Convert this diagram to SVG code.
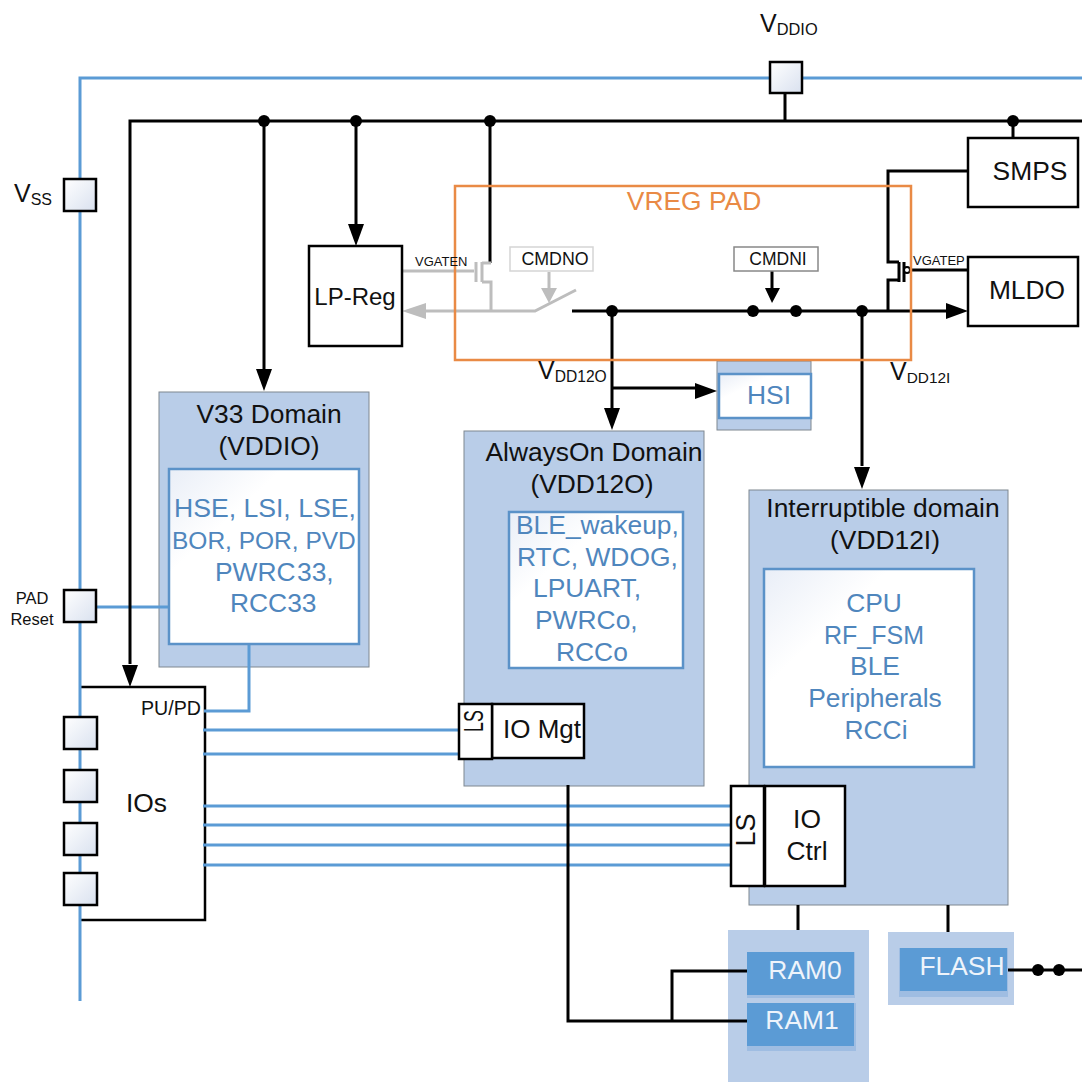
<svg xmlns="http://www.w3.org/2000/svg" width="1082" height="1082" viewBox="0 0 1082 1082">
<style>
text{font-family:"Liberation Sans",Arial,sans-serif;fill:#111;font-size:26.4px}
.c{text-anchor:middle}
.b{fill:#4f86bd}
.o{fill:#e98a45}
.w{fill:#eef4fb}
.k{fill:none;stroke:#000;stroke-width:3}
.g{fill:none;stroke:#bdbdbd;stroke-width:3}
.u{fill:none;stroke:#5b9bd5;stroke-width:3}
.dom{fill:#b9cde8;stroke:#7f8790;stroke-width:1}
.inner{fill:url(#wg);stroke:#5b92c8;stroke-width:2.5}
.pad{fill:url(#pg);stroke:#000;stroke-width:2.5}
.box{fill:#fff;stroke:#000;stroke-width:2.5}
.ram{fill:#5b9bd5}
.band{fill:#9fbde2}
.dot{fill:#000}
</style>
<defs>
<linearGradient id="wg" x1="0" y1="0" x2="1" y2="1"><stop offset="0" stop-color="#e9eef7"/><stop offset=".3" stop-color="#fff"/></linearGradient>
<linearGradient id="pg" x1="0" y1="0" x2="1" y2="1"><stop offset="0" stop-color="#fff"/><stop offset="1" stop-color="#d9e1ef"/></linearGradient>
</defs>

<g id="domains">
<rect id="v33-domain" class="dom" x="159" y="392" width="210" height="275"/>
<rect id="alwayson-domain" class="dom" x="464" y="431" width="240" height="355"/>
<rect id="interruptible-domain" class="dom" x="749" y="490" width="259" height="415"/>
<rect id="hsi-domain" class="dom" x="717" y="361" width="94" height="69"/>
<rect id="ram-domain" x="728" y="930" width="141" height="152" fill="#b9cde8"/>
<rect id="flash-domain" x="888" y="932" width="126" height="73" fill="#b9cde8"/>
</g>

<g id="ios"><path fill="#fff" d="M82 687H205V920H82Z"/><path fill="none" stroke="#000" stroke-width="2.5" d="M81 687H205V920H81"/>
<text x="126" y="812">IOs</text><text x="141" y="715" style="font-size:19.6px">PU/PD</text></g>

<g id="connectors">
<path class="u" d="M1082 78H80V1001"/>
<path class="u" d="M96 607H169M249 644V711H204M203 730H458M203 754H458M203 806H732M203 825H735M203 845H732M203 865H734"/>
<path class="k" d="M1082 121H130V664M264 121V370M356 121V225M490 121V263M785 92V121M1013 121V138M968 171H888V262H899M888 311V280H899M910 270H968"/>
<path class="k" d="M572 311H948M612 311V410M612 388H696M862 311V466M772 271V290M568 785V1021H748M672 1021V971H748M798 905V930M948 905V932M1006 970H1082"/>
<path class="k" d="M899 262V282M904 262V282"/>
<path class="g" d="M402 271H474M476 262V282M482 262V282M482 263H491M482 282H491V311M425 311H535L576 290M549 272V290"/>
<polygon fill="#bdbdbd" points="402,311 426,303 426,319"/>
<polygon fill="#bdbdbd" points="549,303 541,288 557,288"/>
<polygon class="dot" points="264,391 256,369 272,369"/>
<polygon class="dot" points="356,246 348,224 364,224"/>
<polygon class="dot" points="130,687 122,665 138,665"/>
<polygon class="dot" points="612,430 604,408 620,408"/>
<polygon class="dot" points="717,391 695,383 695,399"/>
<polygon class="dot" points="862,489 854,467 870,467"/>
<polygon class="dot" points="968,311 946,303 946,319"/>
<polygon class="dot" points="772,303 765,288 780,288"/>
<circle class="dot" cx="264" cy="121" r="6"/><circle class="dot" cx="356" cy="121" r="6"/><circle class="dot" cx="490" cy="121" r="6"/><circle class="dot" cx="1013" cy="121" r="6"/>
<circle class="dot" cx="612" cy="311" r="6"/><circle class="dot" cx="753" cy="311" r="6"/><circle class="dot" cx="796" cy="311" r="6"/><circle class="dot" cx="862" cy="311" r="6"/>
<circle class="dot" cx="1038" cy="970" r="6"/><circle class="dot" cx="1059" cy="970" r="6"/>
<circle cx="907" cy="270" r="3" fill="#fff" stroke="#000" stroke-width="2"/>
</g>

<g id="vreg-pad"><rect x="455" y="186" width="456" height="174" fill="none" stroke="#e98a45" stroke-width="2.5"/>
<text class="o c" x="694" y="210">VREG PAD</text></g>

<g id="vddio-pad"><rect class="pad" x="770" y="62" width="32" height="31"/>
<text x="760" y="32" style="font-size:25px">V<tspan style="font-size:16.4px" dy="3">DDIO</tspan></text></g>
<g id="vss-pad"><rect class="pad" x="64" y="179" width="32" height="32"/>
<text x="14" y="202" style="font-size:25px">V<tspan style="font-size:16px" dy="3">SS</tspan></text></g>
<g id="pad-reset"><rect class="pad" x="64" y="590" width="32" height="32"/>
<text class="c" x="32" y="604" style="font-size:16.5px">PAD</text><text class="c" x="32" y="625" style="font-size:16.5px">Reset</text></g>

<g id="io-pads"><rect class="pad" x="64" y="717" width="33" height="32"/><rect class="pad" x="64" y="770" width="33" height="32"/><rect class="pad" x="64" y="823" width="33" height="32"/><rect class="pad" x="64" y="873" width="33" height="32"/></g>

<g id="lp-reg"><rect class="box" x="309" y="246" width="93" height="100"/><text class="c" x="355" y="305" style="font-size:24px">LP-Reg</text></g>
<g id="cmdno"><rect x="510" y="247" width="83" height="24" fill="#fff" stroke="#d5d5d5" stroke-width="1.5"/><text class="c" x="555" y="265" style="font-size:17.8px">CMDNO</text></g>
<g id="cmdni"><rect x="734" y="247" width="84" height="24" fill="#fff" stroke="#888" stroke-width="1.5"/><text class="c" x="778" y="265" style="font-size:17.5px">CMDNI</text></g>
<text id="vgaten" x="415" y="266" style="font-size:13px">VGATEN</text>
<text id="vgatep" x="913" y="265" style="font-size:13px">VGATEP</text>
<text id="vdd12o" x="538" y="379" style="font-size:25px">V<tspan style="font-size:15.6px" dy="3">DD12O</tspan></text>
<text id="vdd12i" x="890" y="380" style="font-size:25px">V<tspan style="font-size:15.4px" dy="3">DD12I</tspan></text>

<g id="smps"><rect class="box" x="968" y="138" width="110" height="69"/><text class="c" x="1030" y="180">SMPS</text></g>
<g id="mldo"><rect class="box" x="968" y="257" width="110" height="69"/><text class="c" x="1027" y="299">MLDO</text></g>

<g id="hsi"><rect class="inner" x="719" y="374" width="92" height="44"/><text class="b c" x="769" y="404">HSI</text></g>

<g id="v33"><text class="c" x="269" y="423">V33 Domain</text><text class="c" x="269" y="455">(VDDIO)</text>
<rect class="inner" x="169" y="469" width="190" height="175"/>
<text class="b" x="174" y="517" style="font-size:26.6px">HSE, LSI, LSE,</text><text class="b" x="172" y="549" style="font-size:24.5px">BOR, POR, PVD</text><text class="b" x="215" y="581" style="word-spacing:-6px">PWRC 33,</text><text class="b" x="230" y="612">RCC33</text></g>

<g id="alwayson"><text class="c" x="594" y="461">AlwaysOn Domain</text><text class="c" x="592" y="493">(VDD12O)</text>
<rect class="inner" x="509" y="512" width="174" height="156"/>
<text class="b" x="516" y="534">BLE_wakeup,</text><text class="b" x="517" y="566">RTC, WDOG,</text><text class="b" x="533" y="597">LPUART,</text><text class="b" x="535" y="629">PWRCo,</text><text class="b" x="556" y="661">RCCo</text></g>

<g id="io-mgt"><rect class="box" x="492" y="704" width="92" height="54"/><text class="c" x="542" y="738" style="font-size:26px">IO Mgt</text></g>
<g id="ls-mgt"><rect class="box" x="459" y="704" width="33" height="55"/><text transform="translate(483 732) rotate(-90) scale(.66 1)" style="font-size:27px">LS</text></g>

<g id="interruptible"><text class="c" x="883" y="517">Interruptible domain</text><text class="c" x="885" y="549">(VDD12I)</text>
<rect class="inner" x="764" y="569" width="210" height="198"/>
<text class="b c" x="874" y="612">CPU</text><text class="b c" x="874" y="644" style="font-size:25px">RF_FSM</text><text class="b c" x="875" y="675">BLE</text><text class="b c" x="875" y="707">Peripherals</text><text class="b c" x="876" y="739">RCCi</text></g>

<g id="io-ctrl"><rect class="box" x="765" y="786" width="80" height="100"/><text class="c" x="807" y="828">IO</text><text class="c" x="807" y="860">Ctrl</text></g>
<g id="ls-ctrl"><rect class="box" x="731" y="786" width="33" height="100"/><text class="c" transform="translate(755 830) rotate(-90)" style="font-size:27px">LS</text></g>

<g id="ram0"><rect class="band" x="747" y="952" width="108" height="46"/><rect class="ram" x="747" y="952" width="107" height="43"/><text class="w c" x="805" y="979">RAM0</text></g>
<g id="ram1"><rect class="band" x="747" y="1003" width="109" height="48"/><rect class="ram" x="747" y="1003" width="107" height="43"/><text class="w c" x="802" y="1029">RAM1</text></g>
<g id="flash"><rect class="band" x="899" y="948" width="109" height="49"/><rect class="ram" x="900" y="948" width="107" height="43"/><text class="w c" x="962" y="975">FLASH</text></g>
</svg>
